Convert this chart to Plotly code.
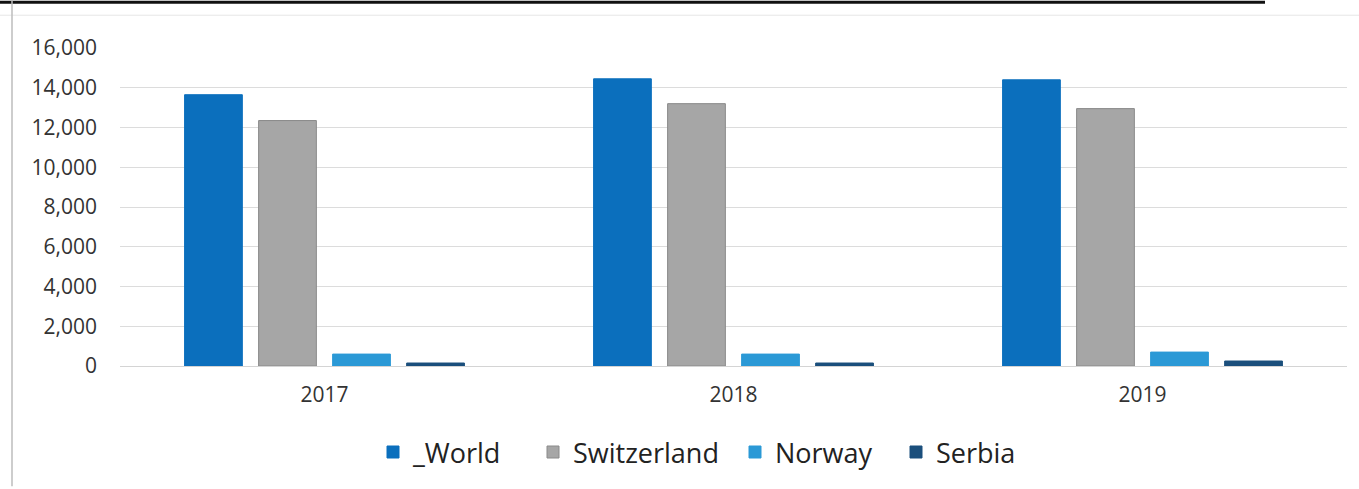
import plotly.graph_objects as go

years = ["2017", "2018", "2019"]
world = [13650, 14450, 14400]
switzerland = [12350, 13200, 12950]
norway = [600, 600, 700]
serbia = [150, 150, 250]
y_ticks = [0, 2000, 4000, 6000, 8000, 10000, 12000, 14000, 16000]

series = [
    ("_World", world, "#0B6FBD", "#0B6FBD"),
    ("Switzerland", switzerland, "#A6A6A6", "#8A8A8A"),
    ("Norway", norway, "#2B99D6", "#2B99D6"),
    ("Serbia", serbia, "#1B4F7C", "#1B4F7C"),
]

W, H = 1359, 489
L, R, T, B = 120, 12, 48, 121


def px_x(x):
    return (x - L) / (W - L - R)


def px_y(y):
    return (H - B - y) / (H - T - B)


# left edge (page px) of each legend square in the reference
legend_left = [388, 548, 750, 911]
legend_names = ["legend", "legend2", "legend3", "legend4"]

fig = go.Figure()
for (name, vals, color, line), lg in zip(series, legend_names):
    fig.add_trace(go.Bar(
        x=years, y=vals, name=name, legend=lg,
        marker=dict(color=color, line=dict(color=line, width=1)),
    ))

legend_layout = {}
for lg, lx in zip(legend_names, legend_left):
    legend_layout[lg] = dict(
        orientation="h", x=px_x(lx - 15), xanchor="left",
        y=px_y(455), yanchor="middle",
        font=dict(family="Open Sans", size=27, color="#222222"),
        bgcolor="rgba(0,0,0,0)",
    )

fig.update_layout(
    width=W, height=H,
    margin=dict(l=L, r=R, t=T, b=B, pad=0),
    paper_bgcolor="white", plot_bgcolor="white",
    barmode="group", bargap=0.276, bargroupgap=0.22,
    font=dict(family="Open Sans", color="#333333"),
    showlegend=True,
    xaxis=dict(
        showgrid=False, showline=False, zeroline=False, ticks="",
        tickfont=dict(size=21, color="#333333"), ticklabelstandoff=14,
    ),
    yaxis=dict(
        range=[0, 16000], tickvals=y_ticks, tickformat=",d",
        showgrid=True, gridcolor="#DCDCDC", gridwidth=1,
        zeroline=True, zerolinecolor="#D4D4D4", zerolinewidth=1,
        showline=False, ticks="",
        tickfont=dict(size=21, color="#333333"), ticklabelstandoff=22,
    ),
    **legend_layout,
)

# scanned-page frame decorations
fig.add_shape(type="line", xref="paper", yref="paper",
              x0=px_x(0), x1=px_x(1265), y0=px_y(2), y1=px_y(2),
              line=dict(color="#111111", width=3))
fig.add_shape(type="line", xref="paper", yref="paper",
              x0=px_x(0), x1=px_x(1359), y0=px_y(15), y1=px_y(15),
              line=dict(color="#E6E6E6", width=1))
fig.add_shape(type="line", xref="paper", yref="paper",
              x0=px_x(12), x1=px_x(12), y0=px_y(0), y1=px_y(489),
              line=dict(color="#BDBDBD", width=1.5))

fig.write_html("out.html", config={"displayModeBar": False},
               post_script="document.body.style.margin='0';")
